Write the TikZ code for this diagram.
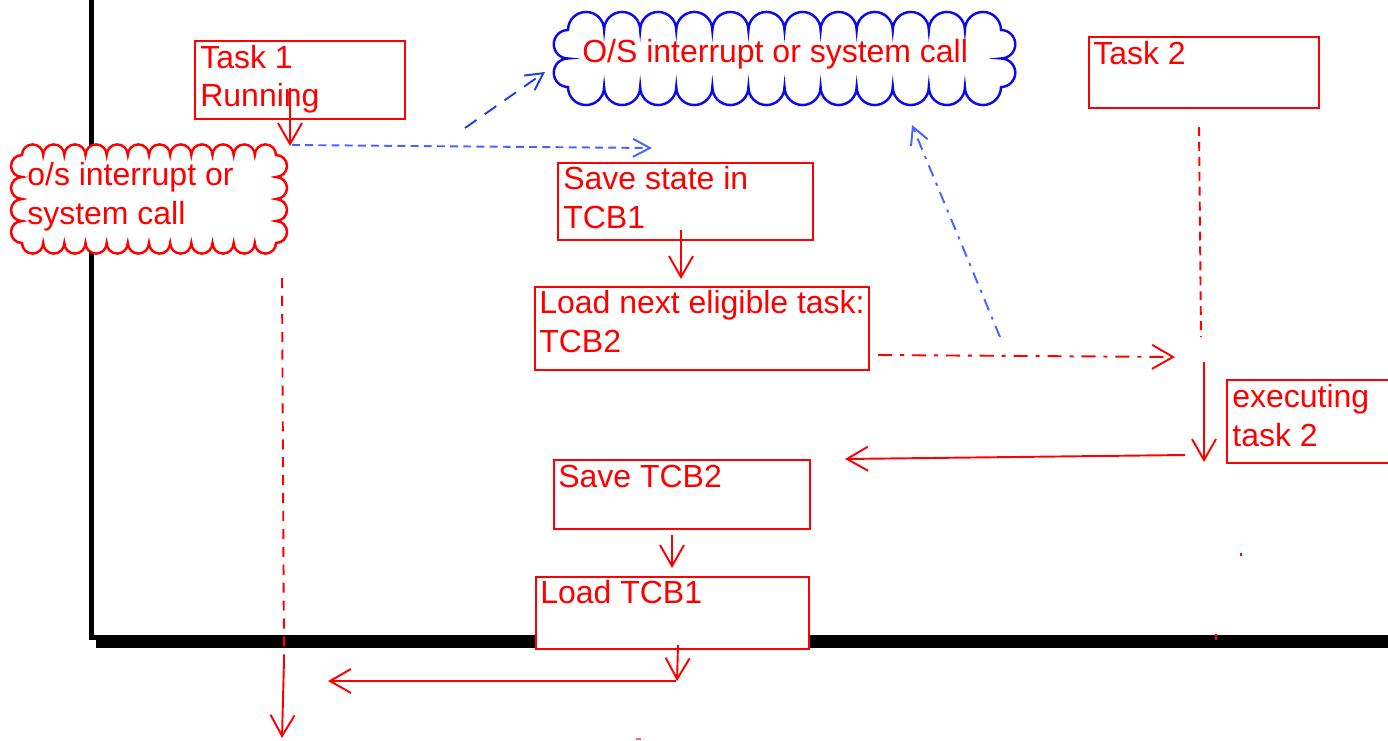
\documentclass[tikz,border=0pt]{standalone}
\usepackage{fontspec}
\setmainfont{Liberation Sans}
\usetikzlibrary{arrows.meta,calc}
\definecolor{osred}{RGB}{255,0,0}
\definecolor{osblue}{RGB}{10,10,235}
\definecolor{linkblue}{RGB}{70,100,255}
\definecolor{darkblue}{RGB}{30,60,235}
% scalloped box: [style](x1,y1)(x2,y2)(bumps across:bumps down)
\def\cloudbox[#1](#2,#3)(#4,#5)(#6:#7){%
  \pgfmathsetmacro\rx{((#4)-(#2))/(2*#6)}%
  \pgfmathsetmacro\ry{((#3)-(#5))/(2*#7)}%
  \draw[#1] (#2,#3) \foreach \k in {1,...,#6}{arc (180:0:\rx)}
    \foreach \k in {1,...,#7}{arc (90:-90:\ry)}
    \foreach \k in {1,...,#6}{arc (0:-180:\rx)}
    \foreach \k in {1,...,#7}{arc (270:90:\ry)} -- cycle;}

\begin{document}
\begin{tikzpicture}[x=0.02cm,y=0.02cm,
    box/.style={draw=osred, line width=1.4pt, fill=white, anchor=north west, inner sep=0pt},
    lbl/.style={text=osred, anchor=base west, align=left, inner sep=0pt,
      font=\fontsize{18.2}{21.9}\selectfont},
    redarrow/.style={draw=osred, line width=1.1pt, -{Straight Barb[length=0.42cm,width=0.48cm]}},
    bluearrow/.style={line width=1.1pt, -{Straight Barb[length=0.34cm,width=0.36cm]}}]
			%%%%% START %%%%%
			\useasboundingbox (0,0) rectangle (1388,-740);
			
			% frame with shadow
			\draw[line width=0.1cm] (91,5) -- (91,-637.5) -- (1392,-637.5);
			\fill (96,-640) rectangle (1392,-648);
			
			% clouds (labels placed at their last baseline)
			\cloudbox[draw=osred, line width=1.4pt, fill=white](22,-155)(276,-243)(12:4)
			\node[lbl] (irq) at (27,-224) {o/s interrupt or\\system call};
			
			\cloudbox[draw=osblue, line width=1.4pt, fill=white](568,-30)(1001,-87)(12:2)
			\node[lbl] (oscall) at (582,-63) {O/S interrupt or system call};
			
			% boxes
			\node[box, minimum width=4.2cm, minimum height=1.56cm] (task1) at (194,-40) {};
			\node[lbl] (task1lbl) at (200,-107) {Task 1\\Running};
			
			\node[box, minimum width=4.6cm, minimum height=1.42cm] (task2) at (1088,-36) {};
			\node[lbl] (task2lbl) at (1093,-65) {Task 2};
			
			\node[box, minimum width=5.1cm, minimum height=1.54cm] (save1) at (557,-162) {};
			\node[lbl] (save1lbl) at (563,-228) {Save state in\\TCB1};
			
			\node[box, minimum width=6.68cm, minimum height=1.66cm] (loadnext) at (534,-286) {};
			\node[lbl] (loadnextlbl) at (539,-352) {Load next eligible task:\\TCB2};
			
			\node[box, minimum width=3.4cm, minimum height=1.66cm] (exec2) at (1226,-379) {};
			\node[lbl] (exec2lbl) at (1232,-446) {executing\\task 2};
			
			\node[box, minimum width=5.12cm, minimum height=1.38cm] (save2) at (553,-459) {};
			\node[lbl] (save2lbl) at (558,-487) {Save TCB2};
			
			\node[box, minimum width=5.46cm, minimum height=1.44cm] (load1) at (535,-576) {};
			\node[lbl] (load1lbl) at (540,-603) {Load TCB1};
			
			% connector ends
			\coordinate (run) at (290,-88);
			\coordinate (irqtop) at (290,-146);
			\coordinate (irqright) at (292,-145);
			\coordinate (save1top) at (652,-148);
			\coordinate (tocloud) at (465,-128);
			\coordinate (cloudleft) at (545,-72);
			\coordinate (backup) at (1000,-337);
			\coordinate (cloudbottom) at (912,-125);
			\coordinate (save1in) at (681,-230);
			\coordinate (loadnexttop) at (681,-279);
			\coordinate (loadnextout) at (878,-355);
			\coordinate (switch) at (1175,-357);
			\coordinate (task2out) at (1199,-127);
			\coordinate (task2wait) at (1201,-337);
			\coordinate (exectop) at (1204,-362);
			\coordinate (execend) at (1204,-462);
			\coordinate (execback) at (1185,-455);
			\coordinate (save2right) at (845,-459);
			\coordinate (save2in) at (672,-535);
			\coordinate (load1top) at (672,-568);
			\coordinate (load1in) at (678,-645);
			\coordinate (load1out) at (677,-681);
			\coordinate (retstart) at (676,-681);
			\coordinate (retend) at (328,-681);
			\coordinate (irqbottom) at (282,-278);
			\coordinate (resume) at (284,-660);
			\coordinate (resumeend) at (282,-738);
			
			% connectors
			\draw[redarrow] (run) -- (irqtop);
			\draw[bluearrow, draw=linkblue, dash pattern=on 4.5pt off 3pt] (irqright) -- (save1top);
			\draw[bluearrow, draw=darkblue, dash pattern=on 8pt off 5.7pt] (tocloud) -- (cloudleft);
			\draw[bluearrow, draw=linkblue, dash pattern=on 6.8pt off 4pt on 1.7pt off 4pt] (backup) -- (cloudbottom);
			\draw[redarrow] (save1in) -- (loadnexttop);
			\draw[redarrow, dash pattern=on 8pt off 4.5pt on 2.3pt off 4.5pt] (loadnextout) -- (switch);
			\draw[draw=osred, line width=1.1pt, dash pattern=on 5.1pt off 3.4pt] (task2out) -- (task2wait);
			\draw[redarrow] (exectop) -- (execend);
			\draw[redarrow] (execback) -- (save2right);
			\draw[redarrow] (save2in) -- (load1top);
			\draw[redarrow] (load1in) -- (load1out);
			\draw[redarrow] (retstart) -- (retend);
			\draw[draw=osred, line width=1.1pt, dash pattern=on 5.7pt off 4.5pt] (irqbottom) -- (resume);
			\draw[redarrow] (resume) -- (resumeend);
			
			% stray marks
			\fill[osred] (1240,-553) rectangle (1242,-556);
			\fill[osred] (1215,-634) rectangle (1217,-640);
			\fill[osred!60] (636,-738) rectangle (641,-740);
			
			%%%%% END %%%%%
\end{tikzpicture}
\end{document}
